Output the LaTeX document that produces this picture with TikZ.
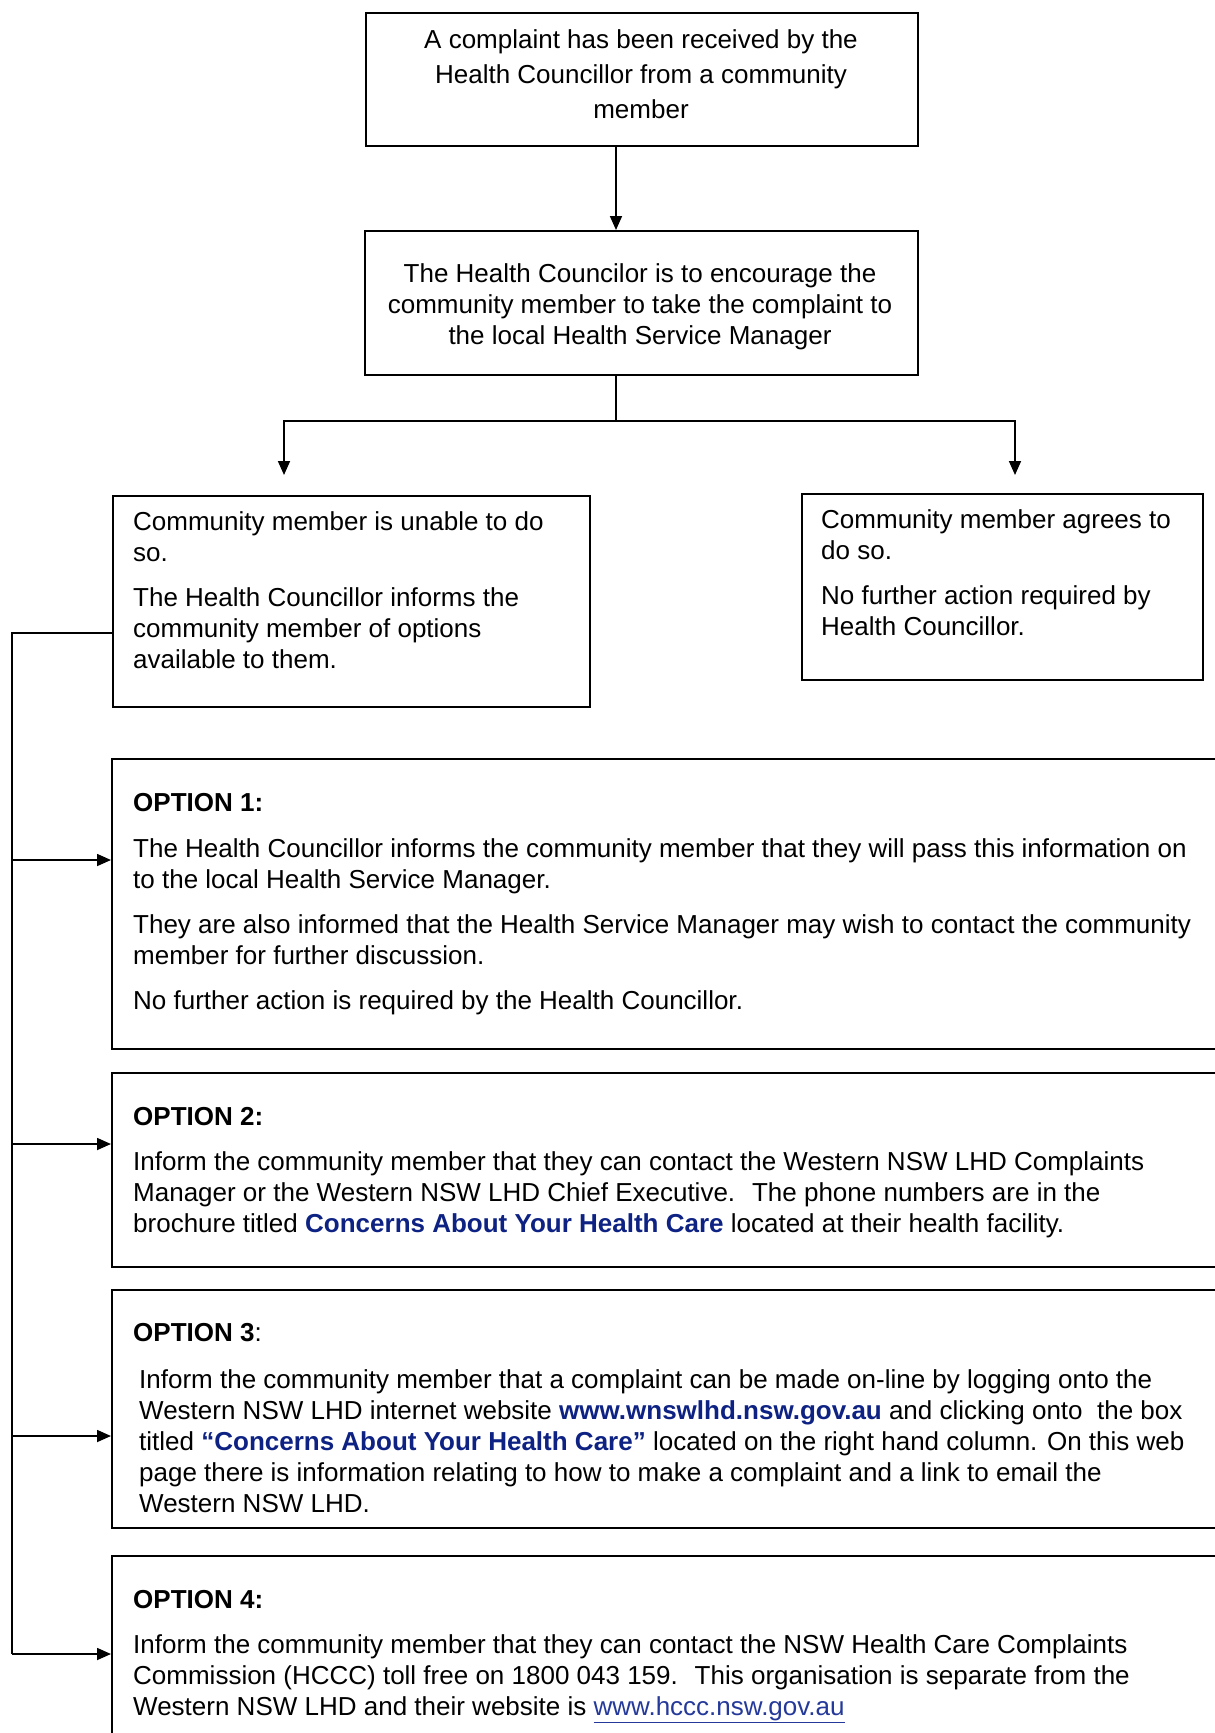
\documentclass[tikz,border=0pt]{standalone}
\usepackage{fontspec}
\setmainfont{Liberation Sans}
\usetikzlibrary{arrows.meta}
\definecolor{navy}{HTML}{0D2283}
\definecolor{linkblue}{HTML}{24399A}
\newcommand\myfs{\fontsize{26}{31}\selectfont}
\newcommand\myfsw{\fontsize{26}{35}\selectfont}
\newcommand\mytl[1]{\begin{tabular}[t]{@{}l@{}}#1\end{tabular}}
\newcommand\mytc[1]{\begin{tabular}[t]{@{}c@{}}#1\end{tabular}}
\begin{document}
\begin{tikzpicture}[x=1pt,y=-1pt,
  box/.style={draw, line width=1.7pt, rectangle, inner sep=0pt, anchor=north west},
  txt/.style={inner sep=0pt, anchor=base west, font=\myfs},
  ctxt/.style={inner sep=0pt, anchor=base, font=\myfs},
  conn/.style={line width=1.7pt},
  arr/.style={conn, -{Triangle[length=14pt,width=12pt]}}]
\useasboundingbox (0,0) rectangle (1215,1733);
\clip (0,0) rectangle (1215,1733);
\fill[white] (0,0) rectangle (1215,1733);

% boxes
\node[box, minimum width=552pt, minimum height=133pt] (b1) at (365,12) {};
\node[box, minimum width=553pt, minimum height=144pt] (b2) at (364,230) {};
\node[box, minimum width=477pt, minimum height=211pt] (lb) at (112,495) {};
\node[box, minimum width=401pt, minimum height=186pt] (rb) at (801,493) {};
\node[box, minimum width=1140pt, minimum height=290pt] (o1) at (111,758) {};
\node[box, minimum width=1140pt, minimum height=194pt] (o2) at (111,1072) {};
\node[box, minimum width=1140pt, minimum height=238pt] (o3) at (111,1289) {};
\node[box, minimum width=1140pt, minimum height=230pt] (o4) at (111,1555) {};

% texts
\node[ctxt, font=\myfsw] (t1) at (641,48) {\mytc{A complaint has been received by the\\Health Councillor from a community\\member}};
\node[ctxt] (t2) at (640,282) {\mytc{The Health Councilor is to encourage the\\community member to take the complaint to\\the local Health Service Manager}};
\node[txt] (tl) at (133,530) {\mytl{Community member is unable to do\\so.\\[14pt]The Health Councillor informs the\\community member of options\\available to them.}};
\node[txt] (tr) at (821,528) {\mytl{Community member agrees to\\do so.\\[14pt]No further action required by\\Health Councillor.}};

\node[txt] (h1) at (133,811) {\bfseries OPTION 1:};
\node[txt] (p1) at (133,857) {\mytl{The Health Councillor informs the community member that they will pass this information on\\to the local Health Service Manager.\\[14pt]They are also informed that the Health Service Manager may wish to contact the community\\member for further discussion.\\[14pt]No further action is required by the Health Councillor.}};

\node[txt] (h2) at (133,1125) {\bfseries OPTION 2:};
\node[txt] (p2) at (133,1170) {\mytl{Inform the community member that they can contact the Western NSW LHD Complaints\\Manager or the Western NSW LHD Chief Executive.~ The phone numbers are in the\\brochure titled \textcolor{navy}{\bfseries Concerns About Your Health Care} located at their health facility.}};

\node[txt] (h3) at (133,1341) {\textbf{OPTION 3}:};
\node[txt] (p3) at (139,1388) {\mytl{Inform the community member that a complaint can be made on-line by logging onto the\\Western NSW LHD internet website \textcolor{navy}{\bfseries www.wnswlhd.nsw.gov.au} and clicking onto~ the box\\titled \textcolor{navy}{\bfseries “Concerns About Your Health Care”} located on the right hand column. On this web\\page there is information relating to how to make a complaint and a link to email the\\Western NSW LHD.}};

\node[txt] (h4) at (133,1608) {\bfseries OPTION 4:};
\node[txt] (p4) at (133,1653) {\mytl{Inform the community member that they can contact the NSW Health Care Complaints\\Commission (HCCC) toll free on 1800 043 159.~ This organisation is separate from the\\Western NSW LHD and their website is \textcolor{linkblue}{\underline{www.hccc.nsw.gov.au}}}};

% connector helpers
\coordinate (ax) at (616,0);
\coordinate (bj) at (616,421);
\coordinate (lt) at (284,475);
\coordinate (rt) at (1015,475);
\coordinate (lj) at (12,633);
\coordinate (v1) at (12,860);
\coordinate (v2) at (12,1144);
\coordinate (v3) at (12,1436);
\coordinate (v4) at (12,1654);

\draw[arr] (b1.south -| ax) -- (b2.north -| ax);
\draw[conn] (b2.south -| bj) -- (bj);
\draw[arr] (bj) -| (lt);
\draw[arr] (bj) -| (rt);
\draw[conn] (lb.west |- lj) -- (lj) -- (v4);
\draw[arr] (v1) -- (o1.west |- v1);
\draw[arr] (v2) -- (o2.west |- v2);
\draw[arr] (v3) -- (o3.west |- v3);
\draw[arr] (v4) -- (o4.west |- v4);
\end{tikzpicture}
\end{document}
